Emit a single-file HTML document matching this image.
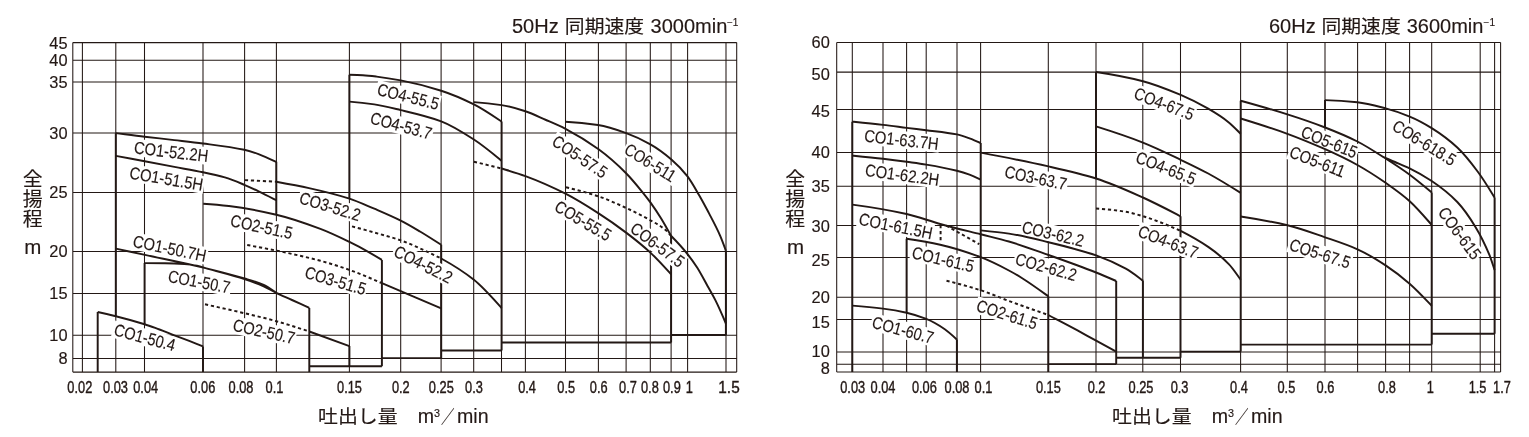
<!DOCTYPE html>
<html lang="ja">
<head>
<meta charset="utf-8">
<title>性能曲線 50Hz / 60Hz</title>
<style>
html,body{margin:0;padding:0;background:#fff}
body{width:1529px;height:437px;overflow:hidden}
svg{display:block}
text{font-family:"Liberation Sans","Noto Sans CJK JP",sans-serif;fill:#231815;stroke:#231815;stroke-width:.15}
.g{fill:none;stroke:#231815;stroke-width:1.05}
.c{fill:none;stroke:#231815;stroke-width:1.95;stroke-linejoin:miter}
.d{stroke-dasharray:3.2 2.8}
.lb text{font-size:17.2px}
.mk rect{fill:#fff}
.yl text{font-size:16.4px;text-anchor:end}
.xl text{font-size:16px;text-anchor:middle;stroke-width:.4}
.tt text{font-size:20px}
.tt .j{font-size:17.8px}
.tt .sup{font-size:10px}
.xa .sup{font-size:10.8px}
.va text{font-size:19.5px;text-anchor:middle}
.va .m{font-size:20.5px}
.xa .m{font-size:19.6px}
.xa .j{font-size:18.3px}
</style>
</head>
<body>
<svg width="1529" height="437" viewBox="0 0 1529 437">
<rect width="1529" height="437" fill="#fff"/>
<g id="chart50">
<path class="g" d="M72.8 42.6V372.1M82.4 42.6V372.1M115.8 42.6V372.1M144.5 42.6V372.1M203 42.6V372.1M244.6 42.6V372.1M276.4 42.6V372.1M349.4 42.6V372.1M400.7 42.6V372.1M441.1 42.6V372.1M473.7 42.6V372.1M501.5 42.6V372.1M525.4 42.6V372.1M565.5 42.6V372.1M598.4 42.6V372.1M626.1 42.6V372.1M650.3 42.6V372.1M671.1 42.6V372.1M687.6 42.6V372.1M726 42.6V372.1M736.7 42.6V372.1M72.8 42.6H736.7M72.8 60.2H736.7M72.8 82H736.7M72.8 133H736.7M72.8 192.4H736.7M72.8 251.4H736.7M72.8 293.5H736.7M72.8 335.3H736.7M72.8 358.4H736.7M72.8 372.1H736.7"/>
<path class="c" d="M97.7 372.1L97.7 312M203 346.4L203 372.1M115.8 316.2L115.8 133.2M144.6 324.2L144.6 263.1M276.3 161.8L276.3 215M309.3 372.1L309.3 307.9M309.3 366.3L381.9 366.3M349.4 346.1L349.4 366.3M381.9 259.9L381.9 366.3M381.9 358.1L441.2 358.1M441.2 244.8L441.2 358.1M441.2 350.5L501.6 350.5M501.6 121.6L501.6 350.5M501.6 342.4L671.1 342.4M671.1 235.8L671.1 342.4M671.1 335L725.9 335M725.9 250.6L725.9 335M349.4 74.8L349.4 199"/>
<g class="mk">
<rect transform="translate(134.6 152.6) rotate(6.8)" x="-2.4" y="-13.9" width="76.9" height="17.4"/>
<rect transform="translate(129.8 177.8) rotate(9.6)" x="-2.4" y="-13.9" width="76.9" height="17.4"/>
<rect transform="translate(133.2 246.1) rotate(11.8)" x="-2.4" y="-13.9" width="76.9" height="17.4"/>
<rect transform="translate(168.2 281.1) rotate(10.7)" x="-2.4" y="-13.9" width="65.5" height="17.4"/>
<rect transform="translate(114 334.5) rotate(15.1)" x="-2.4" y="-13.9" width="65.5" height="17.4"/>
<rect transform="translate(230.7 225.5) rotate(12.1)" x="-2.4" y="-13.9" width="65.5" height="17.4"/>
<rect transform="translate(233 329.9) rotate(12.6)" x="-2.4" y="-13.9" width="65.5" height="17.4"/>
<rect transform="translate(299.4 202.6) rotate(16.7)" x="-2.4" y="-13.9" width="65.5" height="17.4"/>
<rect transform="translate(304.8 277.1) rotate(16.4)" x="-2.4" y="-13.9" width="65.5" height="17.4"/>
<rect transform="translate(377.3 94.1) rotate(14.1)" x="-2.4" y="-13.9" width="65.5" height="17.4"/>
<rect transform="translate(370.4 122.7) rotate(15)" x="-2.4" y="-13.9" width="65.5" height="17.4"/>
<rect transform="translate(393.8 255.2) rotate(26.9)" x="-2.4" y="-13.9" width="65.5" height="17.4"/>
<rect transform="translate(552 144.2) rotate(33.8)" x="-2.4" y="-13.9" width="64.8" height="17.4"/>
<rect transform="translate(554.5 209.7) rotate(30.7)" x="-2.4" y="-13.9" width="64.8" height="17.4"/>
<rect transform="translate(624.2 152.6) rotate(31.7)" x="-2.4" y="-13.9" width="60.4" height="17.4"/>
<rect transform="translate(630.3 231) rotate(36.6)" x="-2.4" y="-13.9" width="64.8" height="17.4"/>
</g>
<path class="c" d="M97.7 312C103.7 313.3 109.8 314.7 115.8 316.2C125.4 318.6 135 321.2 144.6 324.2C149.6 325.8 154.5 327.7 159.5 329.5C164.5 331.3 169.4 333.4 174.4 335.3C179.3 337.2 184.3 339 189.2 340.9C193.8 342.7 198.4 344.5 203 346.4M115.8 248.6C125.5 250.7 135.3 252.8 145 254.9C164.4 259.1 183.9 262.9 203.3 267.6C217 270.9 230.8 274.4 244.5 278.5C250.9 280.4 257.3 282.1 263.7 284.9C267.9 286.8 272.1 289.9 276.3 292.8M144.6 263.1C151.4 263.1 158.2 263.2 165 263.3C171.5 263.4 178 263.7 184.5 264.1C188.7 264.4 192.8 265 197 265.8C200.7 266.5 204.3 267.9 208 268.9C220.2 272.3 232.3 275.1 244.5 279.1C250.9 281.2 257.3 283.5 263.7 286.3C267.9 288.1 272.1 290.8 276.3 292.8C281.5 295.3 286.8 297.6 292 300C297.8 302.6 303.5 305.3 309.3 307.9M115.8 133.1C125.4 134.3 135.1 135.6 144.7 136.7C154.6 137.9 164.5 138.9 174.4 140.1C183.9 141.2 193.5 142.2 203 143.5C216.8 145.3 230.5 146.8 244.3 149.8C249.2 150.9 254.2 152.5 259.1 154.3C264.8 156.4 270.6 159.2 276.3 161.9M115.8 155.9C125.4 157.6 135.1 159.4 144.7 161.2C154.6 163.1 164.5 165 174.4 166.9C183.9 168.7 193.5 170.3 203 172.3C210.3 173.8 217.5 175.3 224.8 177.4C231.3 179.3 237.8 182.1 244.3 184.8C249.2 186.9 254.2 189.2 259.1 191.6C264.8 194.3 270.6 197.3 276.3 200.2M276.3 181.7C287.2 183.7 298.1 185.7 309 188.1C322.5 191.1 335.9 194.3 349.4 198.6C357.7 201.3 366 205.2 374.3 208.7C383.1 212.5 391.9 216.2 400.7 220.6C407.1 223.8 413.6 227.7 420 231.5C427.1 235.7 434.1 240.3 441.2 244.8M203.2 203.7C211.8 204.3 220.3 205 228.9 206C244.7 207.8 260.5 211 276.3 214.7C291 218.1 305.7 223.3 320.4 228.9C330.3 232.6 340.1 237.4 350 242.2C354.3 244.3 358.6 246.6 362.9 248.9C369.2 252.4 375.6 256.1 381.9 259.9M381.9 283.2L441.2 308.3M309.3 331.5L349.4 346.1M349.4 74.8C353.9 74.9 358.4 75 362.9 75.2C367.5 75.4 372 76 376.6 76.6C384.6 77.6 392.7 78.9 400.7 80.4C414.2 83 427.7 86.4 441.2 90.7C452.1 94.2 463 98.9 473.9 104.4C483.1 109 492.4 115.4 501.6 121.6M349.4 101.6C357.7 102.3 366 103.2 374.3 104.4C383.1 105.7 391.9 108 400.7 110.1C414.2 113.3 427.7 116.3 441.2 121.3C452.1 125.4 463 132.4 473.9 139.5C483.1 145.5 492.4 153.2 501.6 160.7M441.2 258.5C452.1 264.5 463 271.1 473.9 279.8C483.1 287.2 492.4 297.8 501.6 308M473.9 102.1C483.1 102.7 492.4 103.7 501.6 105.1C509.5 106.3 517.5 108.7 525.4 111.3C532.3 113.5 539.1 117 546 120C552.5 122.8 559 125.5 565.5 128.8C576.5 134.5 587.6 141.3 598.6 149.3C607.8 156 616.9 164 626.1 173.2C631.6 178.7 637.1 185.5 642.6 192.3C645.2 195.5 647.8 198.8 650.4 202.4C653.9 207.3 657.5 212.6 661 218.3C664.3 223.7 667.7 229.8 671 235.8M501.6 168.5C509.5 170.9 517.5 173.2 525.4 176.1C538.8 181 552.1 186.9 565.5 193.7C576.5 199.3 587.6 206.3 598.6 213.4C607.8 219.3 616.9 225.7 626.1 232.6C634.2 238.7 642.3 245.1 650.4 252.6C657.3 259 664.2 266.7 671.1 274.3M565.5 121.7C576.3 122.3 587.2 123.4 598 125C607.4 126.4 616.8 129.7 626.2 133.1C634.3 136 642.3 139.7 650.4 144.3C657.3 148.2 664.2 153.3 671.1 159.2C676.6 163.9 682 169.3 687.5 176.3C691.3 181.2 695.2 188.4 699 195C702.3 200.6 705.5 206.7 708.8 212.9C712.6 220.2 716.4 227.1 720.2 235.8C722.1 240.2 724 245.5 725.9 250.6M671 235.8C676.5 241.4 682 247.2 687.5 254.1C690.8 258.2 694 262.7 697.3 267.8C700.5 272.9 703.8 279.2 707 285C709.9 290.1 712.7 294.9 715.6 300.6C719 307.4 722.5 315.5 725.9 323.5"/>
<path class="c d" d="M244.9 180.1L276.3 181.7M247.2 245C256.9 246.8 266.7 248.6 276.4 250.6C291.1 253.7 305.7 256.8 320.4 260.8C330.3 263.5 340.1 266.6 350 270.1C360.6 273.9 371.3 278.6 381.9 283.2M205 304.3C218.1 307.2 231.3 310.1 244.4 313.2C255 315.7 265.7 318.2 276.3 321.2C287.3 324.3 298.3 327.9 309.3 331.5M352 226.4C359.4 228.4 366.9 230.4 374.3 232.5C383.1 235 391.9 237.3 400.7 240.4C414.2 245.2 427.7 251.9 441.2 258.5M473.9 161.7L501.6 168.5M566 187.3C576.7 189.9 587.5 192.7 598.2 196.3C607.5 199.4 616.9 203.7 626.2 208C634.3 211.7 642.3 215.7 650.4 220.3C655.3 223.1 660.1 225.5 665 229.5C667 231.1 669 233.6 671 235.8"/>
<g class="lb">
<text transform="translate(134.6 152.6) rotate(6.8) scale(0.855 1)" x="-1.1" y="0.8">CO1-52.2H</text>
<text transform="translate(129.8 177.8) rotate(9.6) scale(0.855 1)" x="-1.1" y="0.8">CO1-51.5H</text>
<text transform="translate(133.2 246.1) rotate(11.8) scale(0.855 1)" x="-1.1" y="0.8">CO1-50.7H</text>
<text transform="translate(168.2 281.1) rotate(10.7) scale(0.845 1)" x="-1.1" y="0.8">CO1-50.7</text>
<text transform="translate(114 334.5) rotate(15.1) scale(0.845 1)" x="-1.1" y="0.8">CO1-50.4</text>
<text transform="translate(230.7 225.5) rotate(12.1) scale(0.845 1)" x="-1.1" y="0.8">CO2-51.5</text>
<text transform="translate(233 329.9) rotate(12.6) scale(0.845 1)" x="-1.1" y="0.8">CO2-50.7</text>
<text transform="translate(299.4 202.6) rotate(16.7) scale(0.845 1)" x="-1.1" y="0.8">CO3-52.2</text>
<text transform="translate(304.8 277.1) rotate(16.4) scale(0.845 1)" x="-1.1" y="0.8">CO3-51.5</text>
<text transform="translate(377.3 94.1) rotate(14.1) scale(0.845 1)" x="-1.1" y="0.8">CO4-55.5</text>
<text transform="translate(370.4 122.7) rotate(15) scale(0.845 1)" x="-1.1" y="0.8">CO4-53.7</text>
<text transform="translate(393.8 255.2) rotate(26.9) scale(0.845 1)" x="-1.1" y="0.8">CO4-52.2</text>
<text transform="translate(552 144.2) rotate(33.8) scale(0.835 1)" x="-1.1" y="0.8">CO5-57.5</text>
<text transform="translate(554.5 209.7) rotate(30.7) scale(0.835 1)" x="-1.1" y="0.8">CO5-55.5</text>
<text transform="translate(624.2 152.6) rotate(31.7) scale(0.83 1)" x="-1.1" y="0.8">CO6-511</text>
<text transform="translate(630.3 231) rotate(36.6) scale(0.835 1)" x="-1.1" y="0.8">CO6-57.5</text>
</g>
<g class="yl">
<text x="67.6" y="48.5">45</text>
<text x="67.6" y="66.1">40</text>
<text x="67.6" y="87.9">35</text>
<text x="67.6" y="138.9">30</text>
<text x="67.6" y="198.3">25</text>
<text x="67.6" y="257.3">20</text>
<text x="67.6" y="299.4">15</text>
<text x="67.6" y="341.2">10</text>
<text x="67.6" y="364.3">8</text>
</g>
<g class="xl">
<text transform="translate(79.8 392.5) scale(0.8 1)">0.02</text>
<text transform="translate(115.5 392.5) scale(0.8 1)">0.03</text>
<text transform="translate(145.7 392.5) scale(0.8 1)">0.04</text>
<text transform="translate(202.8 392.5) scale(0.8 1)">0.06</text>
<text transform="translate(241 392.5) scale(0.8 1)">0.08</text>
<text transform="translate(274.5 392.5) scale(0.8 1)">0.1</text>
<text transform="translate(349.5 392.5) scale(0.8 1)">0.15</text>
<text transform="translate(400.8 392.5) scale(0.8 1)">0.2</text>
<text transform="translate(441.3 392.5) scale(0.8 1)">0.25</text>
<text transform="translate(474 392.5) scale(0.8 1)">0.3</text>
<text transform="translate(527.1 392.5) scale(0.8 1)">0.4</text>
<text transform="translate(566.2 392.5) scale(0.8 1)">0.5</text>
<text transform="translate(598.7 392.5) scale(0.8 1)">0.6</text>
<text transform="translate(628 392.5) scale(0.8 1)">0.7</text>
<text transform="translate(649.9 392.5) scale(0.8 1)">0.8</text>
<text transform="translate(671.9 392.5) scale(0.8 1)">0.9</text>
<text transform="translate(689.2 392.5) scale(0.8 1)">1</text>
<text transform="translate(729 392.5) scale(0.96 1)">1.5</text>
</g>
<g class="tt"><text x="512" y="33.2">50Hz</text><text class="j" transform="translate(564.8 32.6) scale(1.115 1)">同期速度</text><text x="650.6" y="33.2">3000min</text><text class="sup" x="727" y="26">−1</text></g>
<g class="va"><text class="j" transform="translate(32.6 186.2) scale(1.02 1)">全</text><text class="j" transform="translate(32.6 205.8) scale(1.02 1)">揚</text><text class="j" transform="translate(32.6 225.5) scale(1.02 1)">程</text><text class="m" x="32.9" y="254.4">m</text></g>
<g class="xa"><text class="j" transform="translate(318 422.8) scale(1.09 1)">吐出し量</text><text class="m" x="417.8" y="423.3">m</text><text class="sup" x="434.1" y="417.2">3</text><text class="j" transform="translate(441 423) scale(.74 1)">／</text><text class="m" x="457" y="423.3">min</text></g>
</g>
<g id="chart60">
<path class="g" d="M836.7 42.4V371.9M852.3 42.4V371.9M883 42.4V371.9M906.6 42.4V371.9M926.2 42.4V371.9M957 42.4V371.9M980.6 42.4V371.9M1048.3 42.4V371.9M1096 42.4V371.9M1142.8 42.4V371.9M1180.5 42.4V371.9M1240.6 42.4V371.9M1287.3 42.4V371.9M1325 42.4V371.9M1357.6 42.4V371.9M1385.6 42.4V371.9M1409.6 42.4V371.9M1431.7 42.4V371.9M1480.2 42.4V371.9M1494.6 42.4V371.9M1500.6 42.4V371.9M836.7 42.4H1500.6M836.7 72.1H1500.6M836.7 109.4H1500.6M836.7 152.4H1500.6M836.7 186.2H1500.6M836.7 225.5H1500.6M836.7 257.4H1500.6M836.7 297.2H1500.6M836.7 319.4H1500.6M836.7 352H1500.6M836.7 364.2H1500.6M836.7 371.9H1500.6"/>
<path class="c" d="M852.3 121.7L852.3 371.9M980.7 143L980.7 291M1180.5 216.3L1180.5 357.8M1116.2 281L1116.2 364.1M1142.9 280.6L1142.9 357.8M1048.3 296.3L1048.3 371.9M906.6 238.7L906.6 312.7M956.9 339.5L956.9 371.9M1048.3 364.1L1116.2 364.1M1116.2 357.8L1180.5 357.8M1180.5 351.6L1240.7 351.6M1240.7 344.6L1431.7 344.6M1431.7 333.7L1494.6 333.7M1096 72L1096 178.5M1240.7 100.7L1240.7 351.6M1325 100.1L1325 127.5M1494.6 197.5L1494.6 333.7M1431.7 192.4L1431.7 344.6"/>
<g class="mk">
<rect transform="translate(864.7 140.7) rotate(6.6)" x="-2.4" y="-13.9" width="77.1" height="17.4"/>
<rect transform="translate(865.4 175.1) rotate(7.8)" x="-2.4" y="-13.9" width="77.1" height="17.4"/>
<rect transform="translate(859 223.9) rotate(11.4)" x="-2.4" y="-13.9" width="77.1" height="17.4"/>
<rect transform="translate(912.1 257.5) rotate(13.2)" x="-2.4" y="-13.9" width="65.5" height="17.4"/>
<rect transform="translate(872.2 326.9) rotate(15.2)" x="-2.4" y="-13.9" width="65.5" height="17.4"/>
<rect transform="translate(976.4 310.2) rotate(17.6)" x="-2.4" y="-13.9" width="65.5" height="17.4"/>
<rect transform="translate(1015.3 263.7) rotate(15.6)" x="-2.4" y="-13.9" width="65.5" height="17.4"/>
<rect transform="translate(1022.2 231.9) rotate(13.1)" x="-2.4" y="-13.9" width="65.5" height="17.4"/>
<rect transform="translate(1004.8 176.7) rotate(11.8)" x="-2.4" y="-13.9" width="65.5" height="17.4"/>
<rect transform="translate(1133.8 97.7) rotate(21)" x="-2.4" y="-13.9" width="65.5" height="17.4"/>
<rect transform="translate(1135.6 161.6) rotate(21.6)" x="-2.4" y="-13.9" width="65.5" height="17.4"/>
<rect transform="translate(1137.9 235.5) rotate(21.4)" x="-2.4" y="-13.9" width="65.5" height="17.4"/>
<rect transform="translate(1300.9 136.1) rotate(22)" x="-2.4" y="-13.9" width="61.5" height="17.4"/>
<rect transform="translate(1289.4 156.3) rotate(21.1)" x="-2.4" y="-13.9" width="61.5" height="17.4"/>
<rect transform="translate(1289.4 249.2) rotate(17.7)" x="-2.4" y="-13.9" width="65.5" height="17.4"/>
<rect transform="translate(1392.2 129) rotate(31.6)" x="-2.4" y="-13.9" width="73.6" height="17.4"/>
<rect transform="translate(1438.4 212.8) rotate(53.8)" x="-2.4" y="-13.9" width="62.5" height="17.4"/>
</g>
<path class="c" d="M852.3 121.7C862.5 122.7 872.8 123.7 883 124.9C890.9 125.8 898.7 126.9 906.6 127.9C913.1 128.7 919.7 129.4 926.2 130.2C936.4 131.5 946.7 132.3 956.9 134.4C961.1 135.2 965.3 136.8 969.5 138.3C973.2 139.6 977 141.3 980.7 143M852.3 155.6C862.5 156.6 872.8 157.6 883 158.8C890.9 159.7 898.7 160.7 906.6 161.8C913.1 162.7 919.7 163.5 926.2 164.6C936.4 166.3 946.7 168.1 956.9 170.7C961.1 171.7 965.3 173 969.5 174.6C973.2 176 977 177.9 980.7 179.7M980.7 152.6C1003.3 156.9 1025.9 161.3 1048.5 166.4C1064.4 170 1080.2 173.5 1096.1 178.5C1111.7 183.4 1127.3 190.5 1142.9 197.5C1155.5 203.2 1168.1 209.8 1180.7 216.3M852.3 204.6C870.4 207 888.5 210 906.6 214C917.8 216.5 929 220.9 940.2 224C953.7 227.7 967.2 230.9 980.7 234.3C990.1 236.7 999.5 238.8 1008.9 241.5C1022.1 245.3 1035.3 250.3 1048.5 255C1064.4 260.6 1080.2 266.2 1096.1 272.5C1102.8 275.2 1109.5 278.1 1116.2 281M980.7 230.4C990.1 231.3 999.5 232.2 1008.9 233.6C1022.1 235.5 1035.3 239 1048.5 242.2C1064.4 246.1 1080.2 249.9 1096.1 255.4C1106 258.9 1115.9 263.2 1125.8 268.7C1131.5 271.9 1137.2 276.4 1142.9 280.6M906.6 238.7C917.8 240.4 929 242.2 940.2 244.7C953.7 247.7 967.2 252.1 980.7 257.2C990.1 260.8 999.5 265.5 1008.9 270.5C1013.5 272.9 1018 275.6 1022.6 278.5C1031.2 283.9 1039.7 290.1 1048.3 296.3M1048.3 315C1058 320.1 1067.8 325.1 1077.5 330.4C1083.7 333.8 1089.9 337.3 1096.1 340.7C1102.8 344.4 1109.5 348 1116.2 351.7M852.3 305.6C862.5 306.4 872.8 307.3 883 308.6C890.9 309.6 898.7 310.9 906.6 312.7C913.2 314.2 919.7 316.3 926.3 318.9C932.5 321.4 938.6 325 944.8 329.2C948.8 332 952.9 335.8 956.9 339.5M1096 72C1111.6 74.3 1127.3 77.2 1142.9 81.2C1155.5 84.4 1168.1 89.6 1180.7 94.9C1189.9 98.8 1199 103.4 1208.2 108.7C1215.1 112.7 1221.9 116.9 1228.8 122.4C1232.8 125.6 1236.7 129.8 1240.7 133.8M1096 126.4C1111.6 131.3 1127.3 136.4 1142.9 142.6C1155.5 147.6 1168.1 153.8 1180.7 159.8C1189.9 164.2 1199 168.5 1208.2 173.5C1219 179.4 1229.9 186.1 1240.7 192.9M1180.7 230.9C1189.9 235.6 1199 240.6 1208.2 246.9C1215.1 251.6 1221.9 257 1228.8 264.1C1232.8 268.2 1236.7 274.2 1240.7 279.7M1240.7 100.7C1256.3 105 1271.8 109.4 1287.4 114.4C1300 118.4 1312.5 122.6 1325.1 127.5C1335.9 131.7 1346.6 136.1 1357.4 141.5C1366.8 146.3 1376.2 152.5 1385.6 158.5C1393.6 163.6 1401.7 168.8 1409.7 174.7C1417 180.1 1424.4 186.3 1431.7 192.4M1240.7 118.5C1256.3 123.3 1271.8 128.1 1287.4 133.8C1300 138.4 1312.5 143.6 1325.1 149.2C1335.9 154 1346.6 159 1357.4 165C1366.8 170.2 1376.2 176.3 1385.6 182.8C1393.6 188.4 1401.7 194 1409.7 201.2C1417 207.8 1424.4 216.5 1431.7 224.9M1325 100.1C1335.8 100.4 1346.5 101.1 1357.3 102.2C1366.8 103.2 1376.2 105.9 1385.7 108.4C1393.7 110.5 1401.7 113.3 1409.7 116.6C1417 119.6 1424.4 123.6 1431.7 128.1C1440.2 133.4 1448.8 139.6 1457.3 147.5C1464.2 153.9 1471.1 162.7 1478 172C1483.5 179.4 1489.1 188.6 1494.6 197.5M1382 156.4C1386.3 158.3 1390.7 160.1 1395 162C1399.9 164.1 1404.7 166 1409.6 168.4C1417 172 1424.3 176.1 1431.7 181C1440.2 186.7 1448.8 193.1 1457.3 202C1463.4 208.4 1469.5 217.1 1475.6 227.2C1480.2 234.7 1484.7 243.6 1489.3 254.7C1491.1 259 1492.8 264.7 1494.6 270M1240.7 216.5C1256.3 218.9 1271.8 221.6 1287.4 225.3C1300 228.3 1312.5 233 1325.1 237.3C1335.9 241 1346.7 244.4 1357.5 249.3C1366.9 253.5 1376.2 259.2 1385.6 265.4C1393.6 270.7 1401.6 276.8 1409.6 283.7C1417 290.1 1424.3 298 1431.7 305.8"/>
<path class="c d" d="M940.6 225L940.6 240.6M946.3 225.6L979.3 244.2M946.5 280.7C957.9 283.6 969.3 286.6 980.7 290.3C990.1 293.3 999.5 297.5 1008.9 301C1022 305.8 1035.2 310.4 1048.3 315M1096 208.5C1105.9 209.1 1115.9 210.2 1125.8 211.8C1131.5 212.7 1137.2 214.5 1142.9 216.2C1155.5 220 1168.1 225.4 1180.7 230.9"/>
<g class="lb">
<text transform="translate(864.7 140.7) rotate(6.6) scale(0.858 1)" x="-1" y="0.8">CO1-63.7H</text>
<text transform="translate(865.4 175.1) rotate(7.8) scale(0.858 1)" x="-1" y="0.8">CO1-62.2H</text>
<text transform="translate(859 223.9) rotate(11.4) scale(0.858 1)" x="-1" y="0.8">CO1-61.5H</text>
<text transform="translate(912.1 257.5) rotate(13.2) scale(0.845 1)" x="-1.1" y="0.8">CO1-61.5</text>
<text transform="translate(872.2 326.9) rotate(15.2) scale(0.845 1)" x="-1.1" y="0.8">CO1-60.7</text>
<text transform="translate(976.4 310.2) rotate(17.6) scale(0.845 1)" x="-1.1" y="0.8">CO2-61.5</text>
<text transform="translate(1015.3 263.7) rotate(15.6) scale(0.845 1)" x="-1.1" y="0.8">CO2-62.2</text>
<text transform="translate(1022.2 231.9) rotate(13.1) scale(0.845 1)" x="-1.1" y="0.8">CO3-62.2</text>
<text transform="translate(1004.8 176.7) rotate(11.8) scale(0.845 1)" x="-1.1" y="0.8">CO3-63.7</text>
<text transform="translate(1133.8 97.7) rotate(21) scale(0.845 1)" x="-1.1" y="0.8">CO4-67.5</text>
<text transform="translate(1135.6 161.6) rotate(21.6) scale(0.845 1)" x="-1.1" y="0.8">CO4-65.5</text>
<text transform="translate(1137.9 235.5) rotate(21.4) scale(0.845 1)" x="-1.1" y="0.8">CO4-63.7</text>
<text transform="translate(1300.9 136.1) rotate(22) scale(0.845 1)" x="-1.1" y="0.8">CO5-615</text>
<text transform="translate(1289.4 156.3) rotate(21.1) scale(0.845 1)" x="-1.1" y="0.8">CO5-611</text>
<text transform="translate(1289.4 249.2) rotate(17.7) scale(0.845 1)" x="-1.1" y="0.8">CO5-67.5</text>
<text transform="translate(1392.2 129) rotate(31.6) scale(0.845 1)" x="-1.1" y="0.8">CO6-618.5</text>
<text transform="translate(1438.4 212.8) rotate(53.8) scale(0.86 1)" x="-1" y="0.8">CO6-615</text>
</g>
<g class="yl">
<text x="829.8" y="48.3">60</text>
<text x="829.8" y="79.7">50</text>
<text x="829.8" y="116.7">45</text>
<text x="829.8" y="158.3">40</text>
<text x="829.8" y="192.1">35</text>
<text x="829.8" y="232.4">30</text>
<text x="829.8" y="265.7">25</text>
<text x="829.8" y="302.8">20</text>
<text x="829.8" y="327.8">15</text>
<text x="829.8" y="357.3">10</text>
<text x="829.8" y="373.6">8</text>
</g>
<g class="xl">
<text transform="translate(852.7 393) scale(0.8 1)">0.03</text>
<text transform="translate(883 393) scale(0.8 1)">0.04</text>
<text transform="translate(924.4 393) scale(0.8 1)">0.06</text>
<text transform="translate(957 393) scale(0.8 1)">0.08</text>
<text transform="translate(983.5 393) scale(0.8 1)">0.1</text>
<text transform="translate(1048.4 393) scale(0.8 1)">0.15</text>
<text transform="translate(1096.6 393) scale(0.8 1)">0.2</text>
<text transform="translate(1141 393) scale(0.8 1)">0.25</text>
<text transform="translate(1179.6 393) scale(0.8 1)">0.3</text>
<text transform="translate(1239 393) scale(0.8 1)">0.4</text>
<text transform="translate(1286.4 393) scale(0.8 1)">0.5</text>
<text transform="translate(1325.5 393) scale(0.8 1)">0.6</text>
<text transform="translate(1387 393) scale(0.8 1)">0.8</text>
<text transform="translate(1430.4 393) scale(0.8 1)">1</text>
<text transform="translate(1477.6 393) scale(0.8 1)">1.5</text>
<text transform="translate(1502 393) scale(0.8 1)">1.7</text>
</g>
<g class="tt"><text x="1269" y="33.2">60Hz</text><text class="j" transform="translate(1321.4 32.6) scale(1.115 1)">同期速度</text><text x="1406.7" y="33.2">3600min</text><text class="sup" x="1483.6" y="26">−1</text></g>
<g class="va"><text class="j" transform="translate(795.2 186.2) scale(1.02 1)">全</text><text class="j" transform="translate(795.2 205.8) scale(1.02 1)">揚</text><text class="j" transform="translate(795.2 225.5) scale(1.02 1)">程</text><text class="m" x="795.5" y="254.4">m</text></g>
<g class="xa"><text class="j" transform="translate(1112 422.8) scale(1.09 1)">吐出し量</text><text class="m" x="1211.8" y="423.3">m</text><text class="sup" x="1228.1" y="417.2">3</text><text class="j" transform="translate(1235 423) scale(.74 1)">／</text><text class="m" x="1251" y="423.3">min</text></g>
</g>
</svg>
</body>
</html>
